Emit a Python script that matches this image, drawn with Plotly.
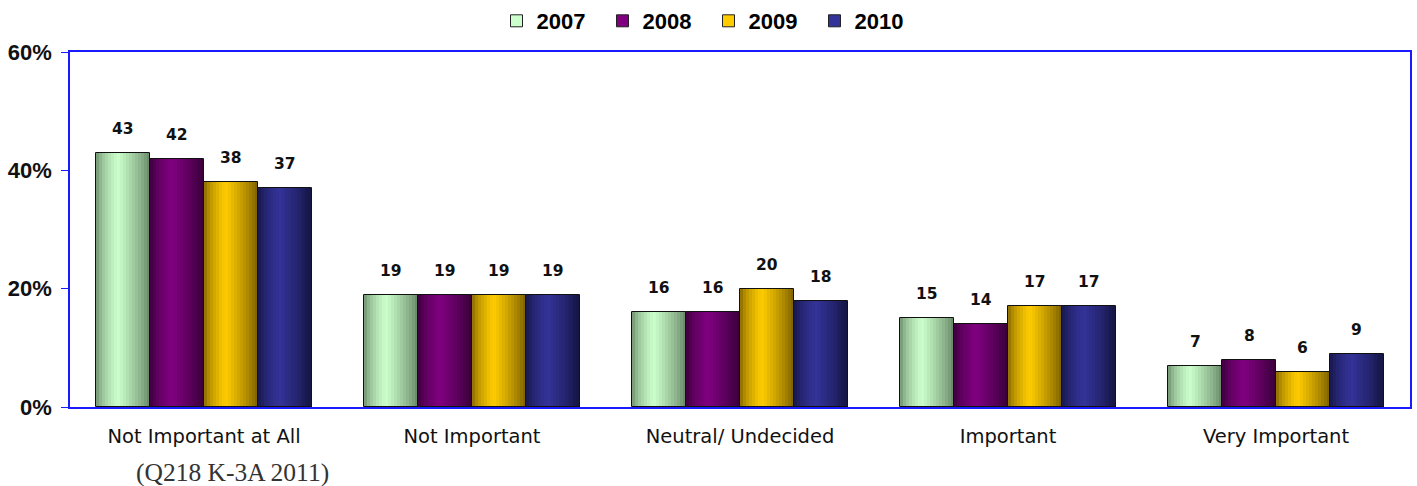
import plotly.graph_objects as go

categories = ["Not Important at All", "Not Important", "Neutral/ Undecided", "Important", "Very Important"]
series_names = ["2007", "2008", "2009", "2010"]
v2007 = [43, 19, 16, 15, 7]
v2008 = [42, 19, 16, 14, 8]
v2009 = [38, 19, 20, 17, 6]
v2010 = [37, 19, 18, 17, 9]
values = [v2007, v2008, v2009, v2010]
y_ticks = [0, 20, 40, 60]
footnote = "(Q218 K-3A 2011)"

# (dark edge, light center) for cylinder-like shading
palette = [
    ((0x5a, 0x78, 0x5a), (0xcc, 0xff, 0xcc)),
    ((0x2c, 0x00, 0x2c), (0x80, 0x00, 0x80)),
    ((0x6a, 0x52, 0x00), (0xff, 0xcc, 0x00)),
    ((0x10, 0x10, 0x38), (0x33, 0x33, 0x99)),
]

W = 0.2006  # bar width in category units
N = 18      # shading strips per bar

def shade(dark, light, t):
    if t < 0.4:
        f = (t / 0.4) ** 0.55
    else:
        f = ((1 - t) / 0.6) ** 0.8
    f = 0.08 + 0.92 * f
    return "rgb(%d,%d,%d)" % tuple(round(d + (l - d) * f) for d, l in zip(dark, light))

fig = go.Figure()
xs = list(range(len(categories)))

for s, (name, vals) in enumerate(zip(series_names, values)):
    dark, light = palette[s]
    centers = [i + (s - 1.5) * W for i in xs]
    for k in range(N):
        t = (k + 0.5) / N
        fig.add_trace(go.Bar(
            x=[c - W / 2 + t * W for c in centers], y=vals, width=W / N * 1.05,
            marker=dict(color=shade(dark, light, t), line=dict(width=0)),
            showlegend=False, hoverinfo="skip"))
    # outline
    fig.add_trace(go.Bar(
        x=centers, y=vals, width=W,
        marker=dict(color="rgba(0,0,0,0)", line=dict(color="#111111", width=1)),
        showlegend=False, hoverinfo="skip"))
    # legend entry
    fig.add_trace(go.Bar(
        x=[None], y=[None], name="<b>%s</b>" % name,
        marker=dict(color=shade(dark, light, 0.4), line=dict(color="#222222", width=1))))
    for c, v in zip(centers, vals):
        fig.add_annotation(x=c, y=v, text="<b>%d</b>" % v, showarrow=False, yanchor="bottom",
                           yshift=13, font=dict(family="DejaVu Sans", size=15.5, color="#111111"))

fig.add_annotation(xref="paper", yref="paper",
                   x=(232 - 70) / 1340, y=-(474 - 408) / 356,
                   text=footnote, showarrow=False,
                   xanchor="center", yanchor="middle",
                   font=dict(family="Liberation Serif", size=25.5, color="#333333"))

fig.update_layout(
    width=1417, height=486,
    barmode="overlay",
    bargap=0,
    plot_bgcolor="white", paper_bgcolor="white",
    margin=dict(l=70, r=7, t=52, b=79, autoexpand=False),
    legend=dict(orientation="h", x=0.5, xref="container", xanchor="center",
                y=1, yref="container", yanchor="top",
                font=dict(family="Liberation Sans", size=22, color="#000000"),
                itemwidth=30, traceorder="normal", entrywidth=61, entrywidthmode="pixels"),
    showlegend=True,
)
fig.update_xaxes(range=[-0.5, 4.5], tickmode="array", tickvals=xs, ticktext=categories,
                 showline=True, linecolor="#1a1aff", linewidth=1.5, mirror=True,
                 showgrid=False, zeroline=False, ticks="outside", ticklen=11,
                 tickcolor="rgba(0,0,0,0)", automargin=False,
                 tickfont=dict(family="DejaVu Sans", size=19.5, color="#111111"))
fig.update_yaxes(range=[0, 60], tickmode="array", tickvals=y_ticks,
                 ticktext=["<b>%d%%</b>" % t for t in y_ticks],
                 showline=True, linecolor="#1a1aff", linewidth=1.5, mirror=True,
                 showgrid=False, zeroline=False, ticks="outside", ticklen=7, tickcolor="#1a1aff",
                 automargin=False, ticklabelstandoff=5,
                 tickfont=dict(family="Liberation Sans", size=22, color="#111111"))

fig.write_html("out.html", config={"displayModeBar": False},
               post_script="document.body.style.margin='0';")
